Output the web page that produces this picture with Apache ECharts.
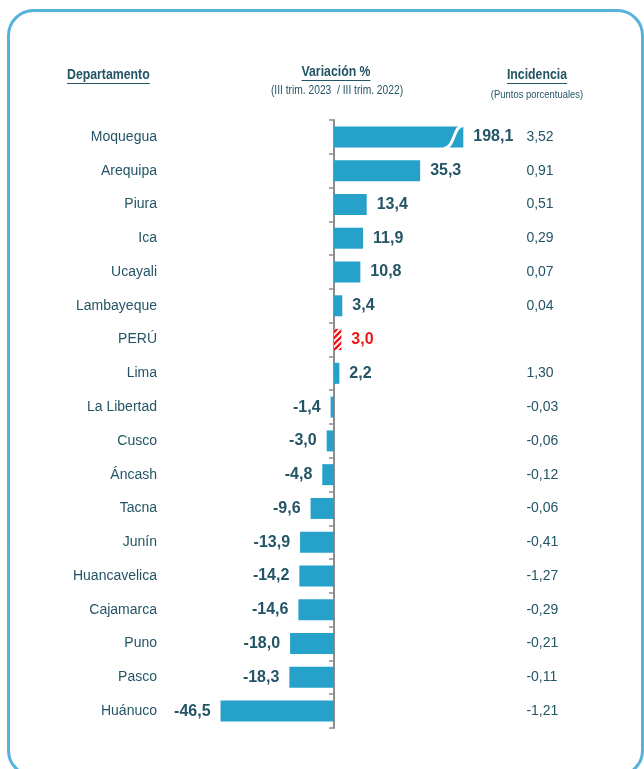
<!DOCTYPE html>
<html>
<head>
<meta charset="utf-8">
<script src="https://cdn.jsdelivr.net/npm/echarts@6/dist/echarts.min.js"></script>
<style>
  html, body {margin: 0; padding: 0; background: #fff;}
  #chart {width: 644px; height: 769px;}
</style>
</head>
<body>
<div id="chart"></div>
<script>
const categories = ['Moquegua', 'Arequipa', 'Piura', 'Ica', 'Ucayali', 'Lambayeque', 'PERÚ', 'Lima',
  'La Libertad', 'Cusco', 'Áncash', 'Tacna', 'Junín', 'Huancavelica', 'Cajamarca', 'Puno', 'Pasco', 'Huánuco']
const variation = [198.1, 35.3, 13.4, 11.9, 10.8, 3.4, 3.0, 2.2,
  -1.4, -3.0, -4.8, -9.6, -13.9, -14.2, -14.6, -18.0, -18.3, -46.5]
const incidence = [3.52, 0.91, 0.51, 0.29, 0.07, 0.04, null, 1.30,
  -0.03, -0.06, -0.12, -0.06, -0.41, -1.27, -0.29, -0.21, -0.11, -1.21]

// Moquegua is drawn with a broken bar
const barCap = 53

const dark = '#245566'
const barColor = '#26a1c9'
const sans = '"Liberation Sans", Arial, sans-serif'
const squeeze = 0.82 // fake condensed face for the headers

const fmt = (v, d) => v.toFixed(d).replace('.', ',')

// red hatch for PERÚ
function hatch() {
    const c = document.createElement('canvas')
    c.width = 6
    c.height = 6
    const g = c.getContext('2d')
    g.fillStyle = '#fff'
    g.fillRect(0, 0, 6, 6)
    g.strokeStyle = '#f01616'
    g.lineWidth = 2.4
    g.beginPath()
    g.moveTo(-1, 7); g.lineTo(7, -1)
    g.moveTo(-4, 4); g.lineTo(4, -4)
    g.moveTo(2, 10); g.lineTo(10, 2)
    g.stroke()
    return c
}

function textWidth(txt, font) {
    const g = document.createElement('canvas').getContext('2d')
    g.font = font
    return g.measureText(txt).width
}

const barData = variation.map((v, i) => {
    const isPeru = categories[i] === 'PERÚ'
    return {
        value: Math.min(v, barCap),
        itemStyle: isPeru ? {color: {image: hatch(), repeat: 'repeat'}} : undefined,
        label: {
            position: v < 0 ? 'left' : 'right',
            color: isPeru ? '#f01616' : dark
        }
    }
})

const chart = echarts.init(document.getElementById('chart'))

const headers = [
    {txt: 'Departamento', x: 67, y: 75, align: 'left', size: 15, bold: true},
    {txt: 'Variación %', x: 336, y: 72, align: 'center', size: 15, bold: true},
    {txt: '(III trim. 2023  / III trim. 2022)', x: 337, y: 91, align: 'center', size: 12.5, bold: false},
    {txt: 'Incidencia', x: 537, y: 75, align: 'center', size: 15, bold: true},
    {txt: '(Puntos porcentuales)', x: 537, y: 95, align: 'center', size: 11.5, bold: false}
]
const graphics = [{
    type: 'rect',
    shape: {x: 8.5, y: 10.5, width: 634, height: 765, r: 25},
    style: {fill: 'none', stroke: '#56b2dc', lineWidth: 3},
    silent: true
}]
headers.forEach(h => {
    const font = (h.bold ? 'bold ' : '') + h.size + 'px ' + sans
    graphics.push({
        type: 'text',
        x: h.x, y: h.y, scaleX: squeeze,
        style: {text: h.txt, font: font, fill: dark, align: h.align, verticalAlign: 'middle'}
    })
    if (h.bold) {
        const w = textWidth(h.txt, font) * squeeze
        const x0 = h.align === 'center' ? h.x - w / 2 : h.x
        graphics.push({
            type: 'line',
            shape: {x1: x0, y1: h.y + 8.5, x2: x0 + w, y2: h.y + 8.5},
            style: {stroke: dark, lineWidth: 1}
        })
    }
})

chart.setOption({
    animation: false,
    backgroundColor: '#fff',
    graphic: graphics,
    grid: {left: 212, right: 163.6, top: 120, bottom: 41},
    xAxis: {
        type: 'value', min: -50, max: 60,
        axisLine: {show: false}, axisTick: {show: false},
        axisLabel: {show: false}, splitLine: {show: false}
    },
    yAxis: [
        {
            type: 'category', data: categories, inverse: true,
            axisLine: {onZero: true, lineStyle: {color: '#8c8c8c', width: 2}},
            axisTick: {show: true, length: 5, lineStyle: {color: '#8c8c8c', width: 1.5}},
            axisLabel: {show: false}
        },
        {
            type: 'category', data: categories, inverse: true, position: 'left',
            axisLine: {show: false, onZero: false}, axisTick: {show: false},
            axisLabel: {margin: 55, color: dark, fontSize: 14, fontFamily: sans}
        },
        {
            type: 'category', data: categories, inverse: true, position: 'right',
            axisLine: {show: false, onZero: false}, axisTick: {show: false},
            axisLabel: {
                margin: 46, align: 'left', color: dark, fontSize: 14, fontFamily: sans,
                formatter: (v, i) => incidence[i] === null ? '' : fmt(incidence[i], 2)
            }
        }
    ],
    series: [
        {
            type: 'bar',
            data: barData,
            barWidth: 21,
            itemStyle: {color: barColor},
            label: {
                show: true, distance: 10,
                fontSize: 16, fontWeight: 'bold', fontFamily: sans,
                formatter: p => fmt(variation[p.dataIndex], 1)
            }
        },
        {
            type: 'custom',
            data: variation.map((v, i) => v > barCap ? [barCap - 3, i] : null).filter(d => d),
            renderItem: (params, api) => {
                const p = api.coord([api.value(0), api.value(1)])
                const h = 21
                return {
                    type: 'bezierCurve',
                    shape: {
                        x1: p[0] - 12, y1: p[1] + h / 2 + 1,
                        cpx1: p[0] - 1, cpy1: p[1] + h / 2,
                        cpx2: p[0] - 3, cpy2: p[1] - h / 2,
                        x2: p[0] + 7, y2: p[1] - h / 2 - 1
                    },
                    style: {stroke: '#fff', lineWidth: 3, fill: null}
                }
            },
            z: 5
        }
    ]
})
</script>
</body>
</html>
